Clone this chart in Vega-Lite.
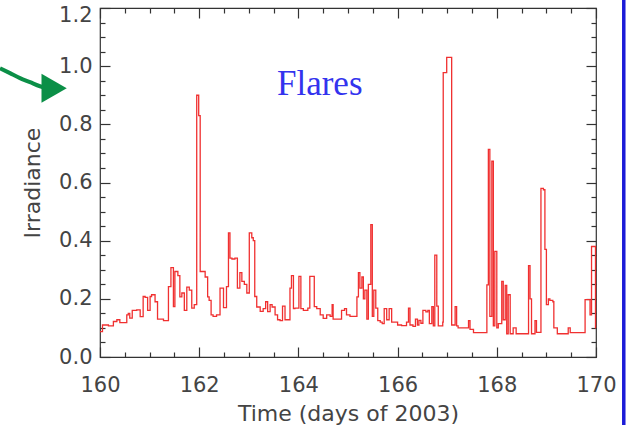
{
  "$schema": "https://vega.github.io/schema/vega-lite/v6.json",
  "width": 496,
  "height": 349,
  "autosize": "none",
  "padding": {"left": 100, "top": 8, "right": 35, "bottom": 68},
  "background": "white",
  "view": {"stroke": "#333333", "strokeWidth": 1.2},
  "config": {
    "font": "DejaVu Sans",
    "axis": {"domain": false, "grid": false, "ticks": true, "labelFont": "DejaVu Sans", "labelFontSize": 21, "labelColor": "#444444", "titleFont": "DejaVu Sans", "titleFontSize": 22, "titleFontWeight": "normal", "titleColor": "#444444", "tickColor": "#333333", "tickWidth": 1.2, "tickSize": -10}
  },
  "datasets": {
    "irr": [
      {"t": 160.00, "v": 0.087}, {"t": 160.05, "v": 0.11}, {"t": 160.17, "v": 0.107}, {"t": 160.27, "v": 0.122},
      {"t": 160.34, "v": 0.128}, {"t": 160.40, "v": 0.118}, {"t": 160.54, "v": 0.145}, {"t": 160.57, "v": 0.15},
      {"t": 160.60, "v": 0.134}, {"t": 160.65, "v": 0.16}, {"t": 160.74, "v": 0.162}, {"t": 160.81, "v": 0.139},
      {"t": 160.87, "v": 0.208}, {"t": 160.91, "v": 0.205}, {"t": 160.96, "v": 0.16}, {"t": 161.01, "v": 0.208},
      {"t": 161.04, "v": 0.214}, {"t": 161.11, "v": 0.19}, {"t": 161.16, "v": 0.13}, {"t": 161.28, "v": 0.125},
      {"t": 161.38, "v": 0.242}, {"t": 161.43, "v": 0.307}, {"t": 161.48, "v": 0.173}, {"t": 161.51, "v": 0.294},
      {"t": 161.57, "v": 0.28}, {"t": 161.61, "v": 0.207}, {"t": 161.65, "v": 0.22}, {"t": 161.70, "v": 0.16},
      {"t": 161.75, "v": 0.24}, {"t": 161.80, "v": 0.23}, {"t": 161.85, "v": 0.168}, {"t": 161.90, "v": 0.18},
      {"t": 161.95, "v": 0.9}, {"t": 161.99, "v": 0.83}, {"t": 162.02, "v": 0.294}, {"t": 162.12, "v": 0.275},
      {"t": 162.17, "v": 0.207}, {"t": 162.20, "v": 0.195}, {"t": 162.24, "v": 0.145}, {"t": 162.28, "v": 0.14},
      {"t": 162.35, "v": 0.145}, {"t": 162.42, "v": 0.237}, {"t": 162.49, "v": 0.17}, {"t": 162.55, "v": 0.242},
      {"t": 162.59, "v": 0.427}, {"t": 162.62, "v": 0.34}, {"t": 162.66, "v": 0.337}, {"t": 162.72, "v": 0.34},
      {"t": 162.77, "v": 0.237}, {"t": 162.82, "v": 0.29}, {"t": 162.86, "v": 0.26}, {"t": 162.91, "v": 0.25},
      {"t": 162.96, "v": 0.22}, {"t": 163.01, "v": 0.427}, {"t": 163.06, "v": 0.41}, {"t": 163.09, "v": 0.40},
      {"t": 163.12, "v": 0.208}, {"t": 163.16, "v": 0.172}, {"t": 163.23, "v": 0.157}, {"t": 163.29, "v": 0.166},
      {"t": 163.34, "v": 0.19}, {"t": 163.38, "v": 0.156}, {"t": 163.43, "v": 0.18}, {"t": 163.47, "v": 0.172},
      {"t": 163.53, "v": 0.145}, {"t": 163.58, "v": 0.128}, {"t": 163.63, "v": 0.125}, {"t": 163.68, "v": 0.175},
      {"t": 163.73, "v": 0.128}, {"t": 163.83, "v": 0.237}, {"t": 163.86, "v": 0.28}, {"t": 163.90, "v": 0.166},
      {"t": 163.93, "v": 0.168}, {"t": 164.01, "v": 0.277}, {"t": 164.05, "v": 0.166}, {"t": 164.10, "v": 0.16},
      {"t": 164.19, "v": 0.168}, {"t": 164.23, "v": 0.277}, {"t": 164.32, "v": 0.173}, {"t": 164.37, "v": 0.166},
      {"t": 164.44, "v": 0.145}, {"t": 164.50, "v": 0.133}, {"t": 164.57, "v": 0.145}, {"t": 164.64, "v": 0.14},
      {"t": 164.68, "v": 0.18}, {"t": 164.70, "v": 0.13}, {"t": 164.87, "v": 0.16}, {"t": 164.93, "v": 0.166},
      {"t": 164.97, "v": 0.145}, {"t": 165.04, "v": 0.14}, {"t": 165.18, "v": 0.207}, {"t": 165.21, "v": 0.29},
      {"t": 165.24, "v": 0.237}, {"t": 165.28, "v": 0.275}, {"t": 165.31, "v": 0.2}, {"t": 165.34, "v": 0.23},
      {"t": 165.38, "v": 0.13}, {"t": 165.41, "v": 0.25}, {"t": 165.46, "v": 0.455}, {"t": 165.49, "v": 0.14},
      {"t": 165.52, "v": 0.23}, {"t": 165.56, "v": 0.168}, {"t": 165.60, "v": 0.125}, {"t": 165.65, "v": 0.12},
      {"t": 165.69, "v": 0.115}, {"t": 165.73, "v": 0.166}, {"t": 165.78, "v": 0.128}, {"t": 165.83, "v": 0.166},
      {"t": 165.88, "v": 0.12}, {"t": 166.00, "v": 0.11}, {"t": 166.08, "v": 0.108}, {"t": 166.18, "v": 0.12},
      {"t": 166.22, "v": 0.168}, {"t": 166.25, "v": 0.11}, {"t": 166.31, "v": 0.105}, {"t": 166.36, "v": 0.13},
      {"t": 166.40, "v": 0.11}, {"t": 166.43, "v": 0.126}, {"t": 166.47, "v": 0.116}, {"t": 166.51, "v": 0.16},
      {"t": 166.57, "v": 0.155}, {"t": 166.61, "v": 0.16}, {"t": 166.64, "v": 0.115}, {"t": 166.69, "v": 0.173},
      {"t": 166.72, "v": 0.107}, {"t": 166.75, "v": 0.35}, {"t": 166.79, "v": 0.175}, {"t": 166.82, "v": 0.107},
      {"t": 166.91, "v": 0.12}, {"t": 166.92, "v": 0.978}, {"t": 166.99, "v": 1.03}, {"t": 167.09, "v": 0.11},
      {"t": 167.16, "v": 0.173}, {"t": 167.19, "v": 0.107}, {"t": 167.22, "v": 0.1}, {"t": 167.43, "v": 0.125},
      {"t": 167.46, "v": 0.095}, {"t": 167.53, "v": 0.084}, {"t": 167.80, "v": 0.248}, {"t": 167.83, "v": 0.714},
      {"t": 167.86, "v": 0.14}, {"t": 167.90, "v": 0.673}, {"t": 167.93, "v": 0.107}, {"t": 167.96, "v": 0.363},
      {"t": 168.00, "v": 0.1}, {"t": 168.03, "v": 0.115}, {"t": 168.10, "v": 0.26}, {"t": 168.13, "v": 0.128},
      {"t": 168.17, "v": 0.246}, {"t": 168.20, "v": 0.08}, {"t": 168.23, "v": 0.214}, {"t": 168.27, "v": 0.08},
      {"t": 168.33, "v": 0.1}, {"t": 168.39, "v": 0.08}, {"t": 168.64, "v": 0.314}, {"t": 168.67, "v": 0.2},
      {"t": 168.70, "v": 0.08}, {"t": 168.77, "v": 0.125}, {"t": 168.80, "v": 0.085}, {"t": 168.89, "v": 0.58},
      {"t": 168.94, "v": 0.575}, {"t": 168.97, "v": 0.37}, {"t": 169.00, "v": 0.18}, {"t": 169.04, "v": 0.2},
      {"t": 169.07, "v": 0.195}, {"t": 169.13, "v": 0.19}, {"t": 169.15, "v": 0.1}, {"t": 169.22, "v": 0.08},
      {"t": 169.44, "v": 0.1}, {"t": 169.48, "v": 0.084}, {"t": 169.78, "v": 0.197}, {"t": 169.88, "v": 0.145},
      {"t": 169.91, "v": 0.38}, {"t": 169.99, "v": 0.1}, {"t": 170.0, "v": 0.1}
    ],
    "arrow": [
      {"t": 157.984, "v": 0.993}, {"t": 158.185, "v": 0.976}, {"t": 158.387, "v": 0.959},
      {"t": 158.589, "v": 0.945}, {"t": 158.790, "v": 0.931}, {"t": 158.952, "v": 0.924}
    ],
    "head": [{"t": 159.075, "v": 0.924}],
    "label": [{"t": 164.43, "v": 0.94, "txt": "Flares"}],
    "border": [{"t": 170.56, "v": 1.24, "v2": -0.24}]
  },
  "resolve": {"axis": {"x": "independent", "y": "independent"}},
  "layer": [
    {
      "data": {"name": "irr"},
      "mark": {"type": "line", "interpolate": "step-after", "color": "#f03030", "strokeWidth": 1.3},
      "encoding": {
        "x": {"field": "t", "type": "quantitative",
          "scale": {"domain": [160, 170], "nice": false, "zero": false},
          "axis": {"orient": "bottom", "title": "Time (days of 2003)", "titlePadding": 8,
            "values": [160,160.5,161,161.5,162,162.5,163,163.5,164,164.5,165,165.5,166,166.5,167,167.5,168,168.5,169,169.5,170],
            "labelExpr": "datum.value % 2 === 0 ? format(datum.value, 'd') : ''", "labelPadding": 27, "labelFlush": false,
            "tickDash": {"condition": {"test": "datum.value % 2 === 0", "value": [10, 0]}, "value": [5, 30]}}},
        "y": {"field": "v", "type": "quantitative",
          "scale": {"domain": [0, 1.2], "nice": false},
          "axis": {"orient": "left", "title": "Irradiance", "titlePadding": 14, "format": ".1f",
            "values": [0,0.05,0.1,0.15,0.2,0.25,0.3,0.35,0.4,0.45,0.5,0.55,0.6,0.65,0.7,0.75,0.8,0.85,0.9,0.95,1.0,1.05,1.1,1.15,1.2],
            "labelExpr": "abs(datum.value*5 - round(datum.value*5)) < 0.001 ? datum.label : ''", "labelPadding": 18, "labelFlush": false,
            "labelOffset": {"condition": {"test": "datum.value > 1.19", "value": 7}, "value": 0},
            "tickDash": {"condition": {"test": "abs(datum.value*5 - round(datum.value*5)) < 0.001", "value": [10, 0]}, "value": [5, 30]}}}
      }
    },
    {
      "data": {"name": "label"},
      "mark": {"type": "text", "font": "Liberation Serif", "fontSize": 35, "color": "#3333ee", "align": "center", "baseline": "middle"},
      "encoding": {
        "x": {"field": "t", "type": "quantitative",
          "axis": {"orient": "top", "title": null, "labels": false,
            "values": [160,160.5,161,161.5,162,162.5,163,163.5,164,164.5,165,165.5,166,166.5,167,167.5,168,168.5,169,169.5,170],
            "tickDash": {"condition": {"test": "datum.value % 2 === 0", "value": [10, 0]}, "value": [5, 30]}}},
        "y": {"field": "v", "type": "quantitative",
          "axis": {"orient": "right", "title": null, "labels": false,
            "values": [0,0.05,0.1,0.15,0.2,0.25,0.3,0.35,0.4,0.45,0.5,0.55,0.6,0.65,0.7,0.75,0.8,0.85,0.9,0.95,1.0,1.05,1.1,1.15,1.2],
            "tickDash": {"condition": {"test": "abs(datum.value*5 - round(datum.value*5)) < 0.001", "value": [10, 0]}, "value": [5, 30]}}},
        "text": {"field": "txt"}
      }
    },
    {
      "data": {"name": "arrow"},
      "mark": {"type": "line", "color": "#0b8f47", "strokeWidth": 4, "interpolate": "monotone", "clip": false},
      "encoding": {
        "x": {"field": "t", "type": "quantitative", "axis": null},
        "y": {"field": "v", "type": "quantitative", "axis": null}
      }
    },
    {
      "data": {"name": "head"},
      "mark": {"type": "point", "shape": "triangle-right", "filled": true, "color": "#0b8f47", "opacity": 1, "size": 850, "clip": false},
      "encoding": {
        "x": {"field": "t", "type": "quantitative", "axis": null},
        "y": {"field": "v", "type": "quantitative", "axis": null}
      }
    },
    {
      "data": {"name": "border"},
      "mark": {"type": "rule", "color": "#1c1cd8", "strokeWidth": 3.5, "clip": false},
      "encoding": {
        "x": {"field": "t", "type": "quantitative", "axis": null},
        "y": {"field": "v", "type": "quantitative", "axis": null},
        "y2": {"field": "v2"}
      }
    }
  ]
}
